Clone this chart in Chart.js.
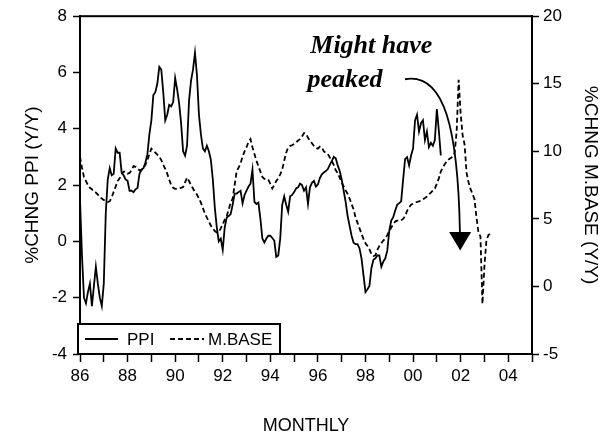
<!DOCTYPE html>
<html>
<head>
<meta charset="utf-8">
<script src="https://cdn.jsdelivr.net/npm/chart.js@4"></script>
<style>
  html, body { margin: 0; padding: 0; background: #fff; }
</style>
</head>
<body>
<canvas id="c" width="609" height="437"></canvas>
<script>
// ── Monthly series, first point = Jan 1986
const START_YEAR = 1986;

// %chng PPI (Y/Y), left axis
const ppi = [
  1.5, -0.5, -2.0, -2.2, -1.8, -1.5, -2.3, -1.6, -0.9, -1.5, -2.0, -2.3,   // 86
  -1.5, 1.0, 2.2, 2.6, 2.35, 2.4, 3.3, 3.15, 3.15, 2.45, 2.35, 2.2,        // 87
  2.15, 1.8, 1.8, 1.75, 1.85, 1.9, 2.4, 2.55, 2.6, 2.8, 3.1, 3.8,          // 88
  4.3, 5.2, 5.3, 5.6, 6.2, 6.1, 5.3, 4.3, 4.5, 4.85, 4.8, 4.95,            // 89
  5.8, 5.4, 4.9, 4.2, 3.2, 3.05, 3.4, 5.0, 5.7, 6.1, 6.7, 5.9,             // 90
  4.5, 3.8, 3.3, 3.2, 3.4, 3.2, 2.9, 2.2, 1.2, 0.5, 0.0, 0.1,              // 91
  -0.3, 0.5, 0.85, 0.9, 0.97, 1.3, 1.7, 1.7, 1.75, 1.8, 1.35, 1.65,        // 92
  1.8, 1.95, 2.05, 2.55, 1.4, 1.33, 1.38, 0.8, 0.1, -0.04, 0.1, 0.2,       // 93
  0.2, 0.12, 0.03, -0.55, -0.5, 0.1, 1.3, 1.6, 1.3, 1.05, 1.6, 1.65,       // 94
  1.75, 1.88, 1.92, 2.05, 2.0, 1.8, 1.92, 1.33, 1.92, 2.08, 2.15, 1.95,    // 95
  2.02, 2.25, 2.38, 2.45, 2.5, 2.57, 2.72, 2.85, 3.0, 2.95, 2.7, 2.5,      // 96
  2.2, 1.8, 1.4, 0.9, 0.55, 0.2, -0.05, -0.1, -0.1, -0.25, -0.6, -1.2,     // 97
  -1.8, -1.7, -1.58, -0.95, -0.65, -0.6, -0.5, -0.5, -0.9, -0.72, -0.6, -0.33, // 98
  0.38, 0.74, 0.86, 1.1, 1.3, 1.36, 1.42, 2.2, 2.93, 2.99, 2.7, 3.05,      // 99
  3.3, 4.3, 4.5, 3.9, 4.2, 4.3, 3.6, 3.9, 3.35, 3.5, 3.4, 3.6,             // 00
  4.7, 3.94, 3.05                                                          // 01
];

// %chng monetary base (Y/Y), right axis
const mbase = [
  9.6, 8.8, 8.1, 7.8, 7.5, 7.3, 7.2, 7.0, 6.95, 6.8, 6.6, 6.5,             // 86
  6.4, 6.3, 6.25, 6.3, 6.6, 7.0, 7.4, 7.8, 8.0, 8.3, 8.5, 8.5,             // 87
  8.35, 8.4, 8.6, 8.9, 8.85, 8.7, 8.6, 8.6, 8.75, 9.0, 9.35, 9.8,          // 88
  10.2, 10.05, 9.9, 9.75, 9.6, 9.35, 9.0, 8.7, 8.35, 7.9, 7.5, 7.3,        // 89
  7.22, 7.22, 7.25, 7.3, 7.35, 7.7, 8.05, 7.8, 7.5, 7.25, 7.0, 6.8,        // 90
  6.5, 6.2, 5.8, 5.4, 5.1, 4.8, 4.5, 4.3, 4.1, 4.0, 4.05, 4.3,             // 91
  4.6, 4.95, 5.2, 5.7, 6.2, 6.5, 7.5, 8.5, 8.8, 9.1, 9.6, 10.0,            // 92
  10.3, 10.7, 10.9, 10.3, 9.8, 9.3, 8.9, 8.5, 8.1, 7.96, 7.96, 7.9,        // 93
  7.6, 7.25, 7.5, 7.8, 8.0, 8.3, 8.65, 9.3, 9.9, 10.3, 10.4, 10.45,        // 94
  10.55, 10.65, 10.8, 10.9, 11.1, 11.35, 11.3, 11.0, 10.8, 10.6, 10.4, 10.25, // 95
  10.2, 10.35, 10.3, 10.0, 9.9, 9.8, 9.55, 9.3, 9.0, 8.6, 8.4, 8.05,       // 96
  7.7, 7.4, 7.1, 6.85, 6.5, 6.1, 5.7, 5.1, 4.7, 4.3, 3.9, 3.5,             // 97
  3.2, 3.0, 2.75, 2.4, 2.25, 2.3, 2.7, 3.0, 3.2, 3.4, 3.55, 3.8,           // 98
  4.1, 4.35, 4.6, 4.8, 4.87, 4.87, 4.9, 5.0, 5.2, 5.6, 5.85, 6.05,         // 99
  6.12, 6.2, 6.25, 6.3, 6.35, 6.45, 6.55, 6.65, 6.8, 6.95, 7.1, 7.25,      // 00
  7.6, 8.0, 8.5, 8.8, 9.05, 9.25, 9.4, 9.5, 9.6, 9.9, 11.5, 15.3,          // 01
  12.8, 11.2, 10.5, 8.4, 7.7, 7.2, 6.85, 6.45, 5.1, 4.0, 3.7, -1.3,        // 02
  1.5, 3.4, 3.8, 3.9                                                       // 03
];

const seriesNames = ['PPI', 'M.BASE'];
const leftTitle   = '%CHNG PPI (Y/Y)';
const rightTitle  = '%CHNG M.BASE (Y/Y)';
const xTitle      = 'MONTHLY';
const noteLines   = ['Might have', 'peaked'];

const SANS  = "'Liberation Sans', Arial, sans-serif";
const SERIF = "'Liberation Serif', 'Times New Roman', serif";
const DASH  = [5, 3];

const toPoints = arr => arr.map((v, i) => ({ x: START_YEAR + i / 12, y: v }));

// ── cadre, légende, note et flèche, dessinés par-dessus
const decor = {
  id: 'decor',
  afterDraw(chart) {
    const { ctx, chartArea: a, scales } = chart;
    const X = v => scales.x.getPixelForValue(v);
    const Y = v => scales.y.getPixelForValue(v);
    ctx.save();

    // cadre
    ctx.strokeStyle = '#000';
    ctx.fillStyle = '#000';
    ctx.lineWidth = 2;
    ctx.strokeRect(a.left, a.top, a.right - a.left, a.bottom - a.top);

    // légende
    const lx = a.left - 2, ly = a.bottom - 30, lw = 202, lh = 30;
    ctx.fillStyle = '#fff';
    ctx.fillRect(lx, ly, lw, lh);
    ctx.lineWidth = 2;
    ctx.strokeRect(lx, ly, lw, lh);
    const my = ly + lh / 2;
    ctx.lineWidth = 1.8;
    ctx.beginPath(); ctx.moveTo(lx + 7, my); ctx.lineTo(lx + 40, my); ctx.stroke();
    ctx.setLineDash(DASH);
    ctx.beginPath(); ctx.moveTo(lx + 92, my); ctx.lineTo(lx + 126, my); ctx.stroke();
    ctx.setLineDash([]);
    ctx.fillStyle = '#000';
    ctx.font = '17px ' + SANS;
    ctx.textAlign = 'left';
    ctx.textBaseline = 'middle';
    ctx.fillText(seriesNames[0], lx + 49, my + 1);
    ctx.fillText(seriesNames[1], lx + 130, my + 1);

    // note
    ctx.font = 'italic bold 26px ' + SERIF;
    ctx.textBaseline = 'alphabetic';
    ctx.fillText(noteLines[0], X(1995.68), Y(6.69));
    ctx.fillText(noteLines[1], X(1995.56), Y(5.48));

    // flèche courbe
    ctx.lineWidth = 1.8;
    ctx.beginPath();
    ctx.moveTo(X(1999.66), Y(5.76));
    ctx.bezierCurveTo(X(2001.34), Y(6.01), X(2001.89), Y(3.95), X(2001.97), Y(0.33));
    ctx.stroke();
    ctx.beginPath();
    ctx.moveTo(X(2001.98) - 11, Y(0.33));
    ctx.lineTo(X(2001.98) + 11, Y(0.33));
    ctx.lineTo(X(2001.98), Y(-0.32));
    ctx.closePath();
    ctx.fill();

    ctx.restore();
  }
};

const tickGrid = len => ({
  display: true, drawOnChartArea: false, drawTicks: true,
  tickLength: len, tickWidth: 1.5, tickColor: '#000'
});
const axisBorder = { display: true, color: '#000', width: 2 };
const tickFont   = { family: SANS, size: 17 };
const titleFont  = { family: SANS, size: 19 };

new Chart(document.getElementById('c'), {
  type: 'line',
  data: {
    datasets: [
      { label: seriesNames[0], data: toPoints(ppi), yAxisID: 'y',
        borderColor: '#000', borderWidth: 1.8, pointRadius: 0, tension: 0, fill: false },
      { label: seriesNames[1], data: toPoints(mbase), yAxisID: 'y2',
        borderColor: '#000', borderWidth: 1.8, borderDash: DASH, pointRadius: 0, tension: 0, fill: false }
    ]
  },
  options: {
    responsive: false,
    animation: false,
    devicePixelRatio: 1,
    layout: { padding: { top: 16, left: 0, right: 0, bottom: 0 } },
    plugins: { legend: { display: false }, tooltip: { enabled: false } },
    scales: {
      x: {
        type: 'linear', min: 1986, max: 2005,
        border: axisBorder, grid: tickGrid(8),
        ticks: {
          stepSize: 1, autoSkip: false, maxRotation: 0, padding: 4,
          color: '#000', font: tickFont,
          callback: v => (v % 2 === 0 && v < 2005) ? String(v % 100).padStart(2, '0') : ''
        },
        title: { display: true, text: xTitle, color: '#000', font: { family: SANS, size: 18 },
                 padding: { top: 0, bottom: 0 } },
        afterFit: s => { s.height = 83; }
      },
      y: {
        position: 'left', min: -4, max: 8,
        border: axisBorder, grid: tickGrid(7),
        ticks: { stepSize: 2, padding: 6, color: '#000', font: tickFont },
        title: { display: true, text: leftTitle, color: '#000', font: titleFont,
                 padding: { top: 21, bottom: 0 } },
        afterFit: s => { s.width = 80; }
      },
      y2: {
        position: 'right', min: -5, max: 20,
        border: axisBorder, grid: tickGrid(7),
        ticks: { stepSize: 5, padding: 4, color: '#000', font: tickFont },
        title: { display: true, text: rightTitle, color: '#000', font: titleFont,
                 padding: { top: 7, bottom: 0 } },
        afterFit: s => { s.width = 77; }
      }
    }
  },
  plugins: [decor]
});
</script>
</body>
</html>
